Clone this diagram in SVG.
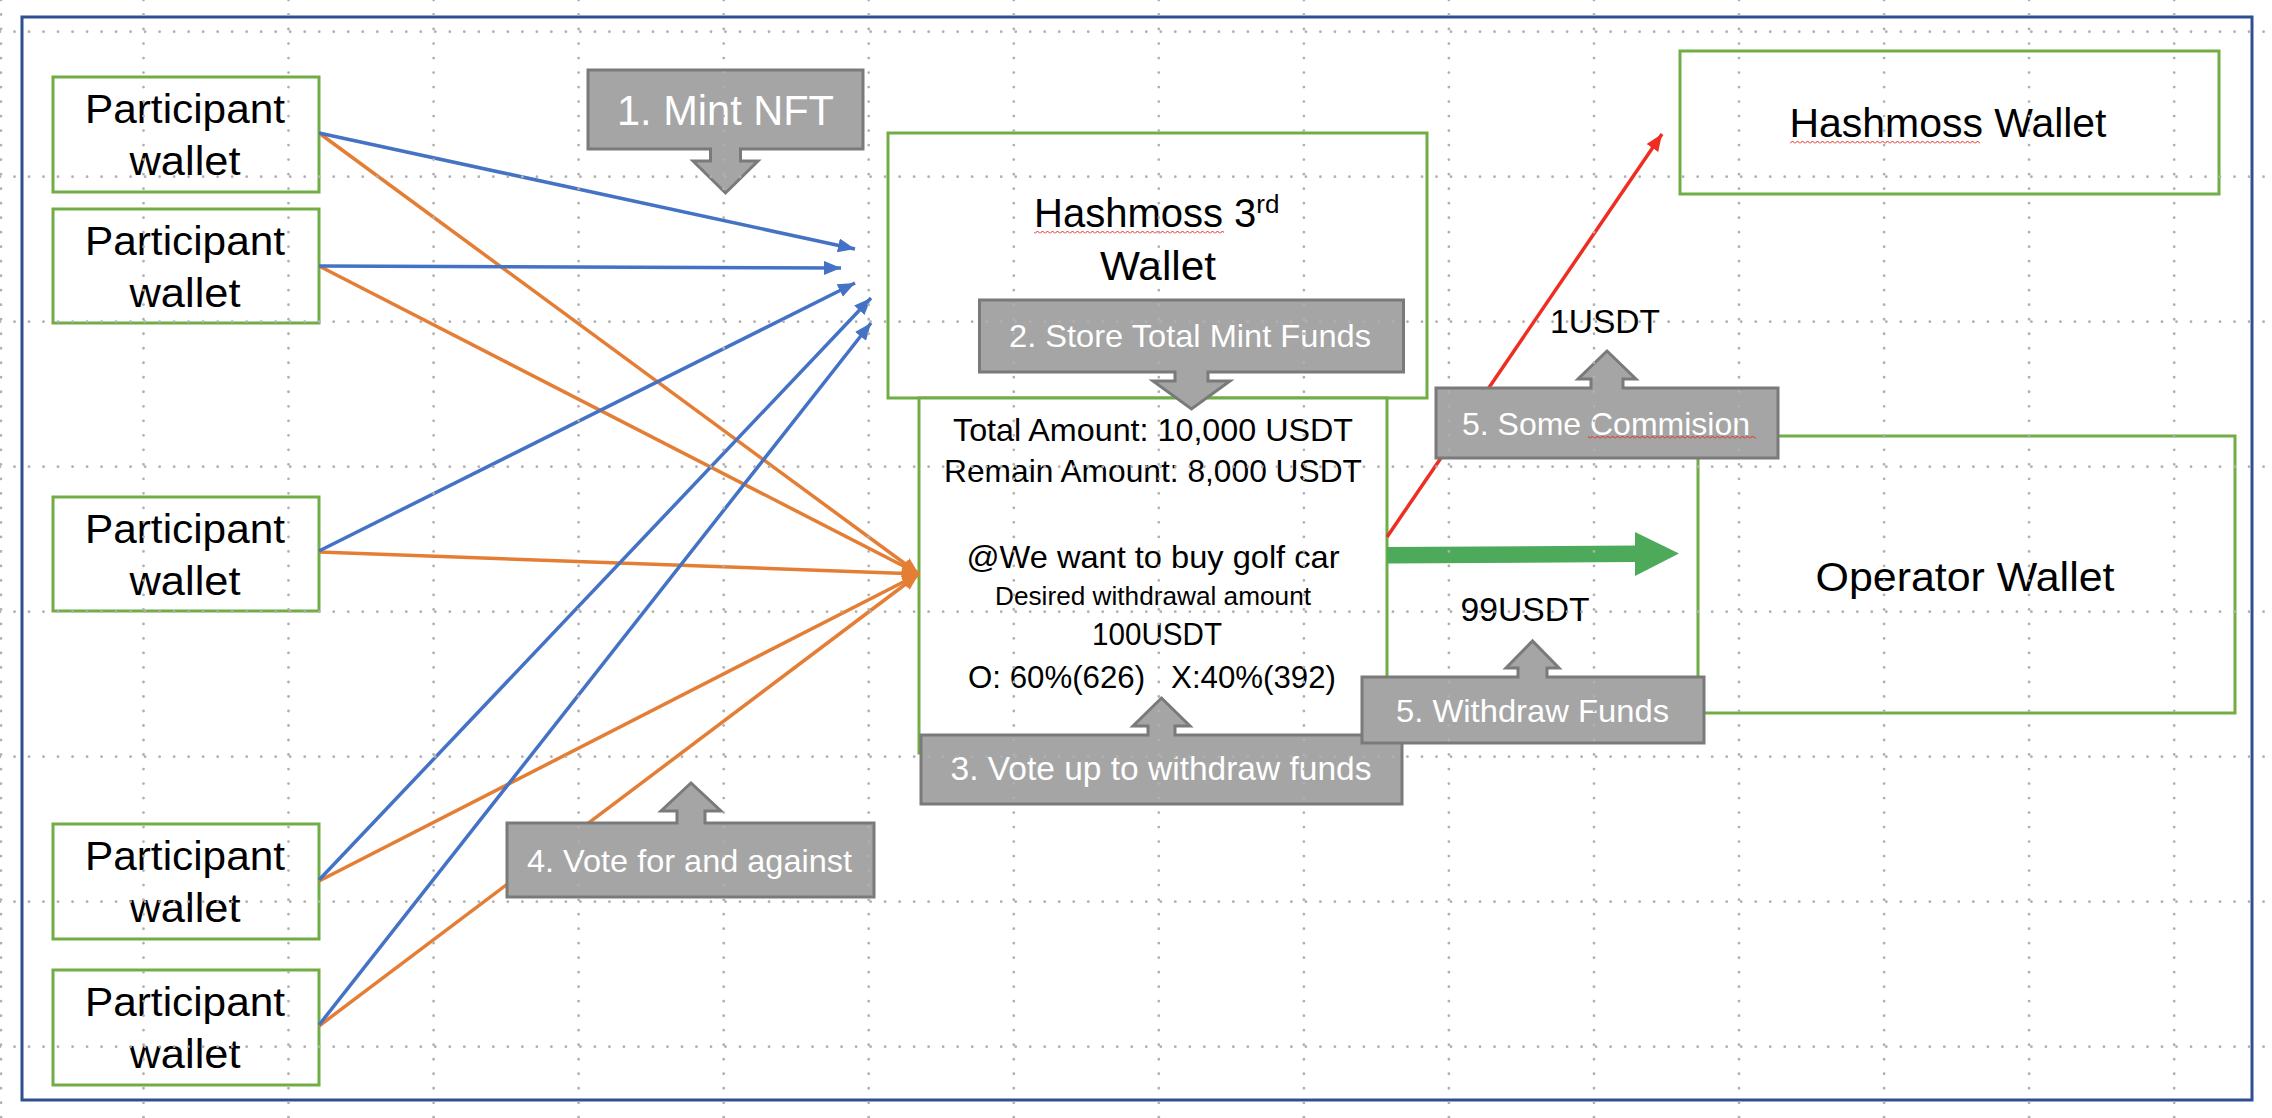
<svg xmlns="http://www.w3.org/2000/svg" width="2272" height="1118" viewBox="0 0 2272 1118">
<style>
.bg{fill:#ffffff}
.frame{fill:none;stroke:#2F4F91;stroke-width:3}
.box{fill:#ffffff;stroke:#70AD47;stroke-width:3}
.t{font-family:"Liberation Sans",Arial,sans-serif;fill:#000000;text-anchor:middle}
.ct{font-family:"Liberation Sans",Arial,sans-serif;fill:#ffffff;text-anchor:middle}
.call{fill:#A5A5A5;stroke:#7A7A7A;stroke-width:3;stroke-linejoin:miter}
.blue{stroke:#4472C4;stroke-width:3.5;fill:none}
.orange{stroke:#E57E35;stroke-width:3.5;fill:none}
.red{stroke:#EE2E22;stroke-width:3.5;fill:none}
.grid{stroke:#B0B0B0;stroke-width:2.8;stroke-dasharray:0.01 14.5;stroke-linecap:round;fill:none}
.sq{fill:url(#squig)}
</style>
<defs>
<marker id="mBlue" markerUnits="userSpaceOnUse" markerWidth="18" markerHeight="14" refX="17" refY="7" orient="auto"><path d="M0,0 L17,7 L0,14 Z" fill="#4472C4"/></marker>
<marker id="mOrange" markerUnits="userSpaceOnUse" markerWidth="18" markerHeight="14" refX="17" refY="7" orient="auto"><path d="M0,0 L17,7 L0,14 Z" fill="#E57E35"/></marker>
<marker id="mRed" markerUnits="userSpaceOnUse" markerWidth="18" markerHeight="14" refX="17" refY="7" orient="auto"><path d="M0,0 L17,7 L0,14 Z" fill="#EE2E22"/></marker>
<pattern id="squig" patternUnits="userSpaceOnUse" width="5" height="5"><path d="M0,3.5 L2.5,1 L5,3.5" fill="none" stroke="#E8231B" stroke-width="1"/></pattern>
</defs>
<rect class="bg" x="0" y="0" width="2272" height="1118"/>
<rect class="frame" x="22" y="17" width="2230" height="1083"/>

<g id="participant1"><rect class="box" x="53" y="77" width="266" height="115"/><text class="t" x="185" y="123" font-size="40" textLength="200" lengthAdjust="spacingAndGlyphs">Participant</text><text class="t" x="185" y="175" font-size="40" textLength="111" lengthAdjust="spacingAndGlyphs">wallet</text></g>
<g id="participant2"><rect class="box" x="53" y="209" width="266" height="114"/><text class="t" x="185" y="255" font-size="40" textLength="200" lengthAdjust="spacingAndGlyphs">Participant</text><text class="t" x="185" y="307" font-size="40" textLength="111" lengthAdjust="spacingAndGlyphs">wallet</text></g>
<g id="participant3"><rect class="box" x="53" y="497" width="266" height="114"/><text class="t" x="185" y="543" font-size="40" textLength="200" lengthAdjust="spacingAndGlyphs">Participant</text><text class="t" x="185" y="595" font-size="40" textLength="111" lengthAdjust="spacingAndGlyphs">wallet</text></g>
<g id="participant4"><rect class="box" x="53" y="824" width="266" height="115"/><text class="t" x="185" y="870" font-size="40" textLength="200" lengthAdjust="spacingAndGlyphs">Participant</text><text class="t" x="185" y="922" font-size="40" textLength="111" lengthAdjust="spacingAndGlyphs">wallet</text></g>
<g id="participant5"><rect class="box" x="53" y="970" width="266" height="115"/><text class="t" x="185" y="1016" font-size="40" textLength="200" lengthAdjust="spacingAndGlyphs">Participant</text><text class="t" x="185" y="1068" font-size="40" textLength="111" lengthAdjust="spacingAndGlyphs">wallet</text></g>

<g id="hashmoss3rd"><rect class="box" x="888" y="133" width="539" height="265"/><text x="1034" y="227" font-family="Liberation Sans, Arial, sans-serif" font-size="40" fill="#000">Hashmoss 3<tspan font-size="26" dy="-14">rd</tspan></text><rect class="sq" x="1034" y="229" width="190" height="5"/><text class="t" x="1158" y="280" font-size="40" textLength="116" lengthAdjust="spacingAndGlyphs">Wallet</text></g>

<g id="proposal"><rect class="box" x="919" y="398" width="468" height="355"/>
<text class="t" x="1153" y="441" font-size="32" textLength="400" lengthAdjust="spacingAndGlyphs">Total Amount: 10,000 USDT</text>
<text class="t" x="1153" y="482" font-size="32" textLength="418" lengthAdjust="spacingAndGlyphs">Remain Amount: 8,000 USDT</text>
<text class="t" x="1153" y="568" font-size="32" textLength="373" lengthAdjust="spacingAndGlyphs">@We want to buy golf car</text>
<text class="t" x="1153" y="605" font-size="25" textLength="316" lengthAdjust="spacingAndGlyphs">Desired withdrawal amount</text>
<text class="t" x="1157" y="645" font-size="32" textLength="130" lengthAdjust="spacingAndGlyphs">100USDT</text>
<text class="t" x="1152" y="688" font-size="32" textLength="368" lengthAdjust="spacingAndGlyphs" xml:space="preserve" style="white-space:pre">O: 60%(626)   X:40%(392)</text>
</g>

<g id="hashmossWallet"><rect class="box" x="1680" y="51" width="539" height="143"/><text class="t" x="1948" y="137" font-size="40" textLength="317" lengthAdjust="spacingAndGlyphs">Hashmoss Wallet</text><rect class="sq" x="1790" y="139" width="190" height="5"/></g>

<g id="operatorWallet"><rect class="box" x="1698" y="436" width="537" height="277"/><text class="t" x="1965" y="591" font-size="40" textLength="299" lengthAdjust="spacingAndGlyphs">Operator Wallet</text></g>

<g id="connectors">
<line class="orange" x1="319" y1="133" x2="919" y2="574" marker-end="url(#mOrange)"/>
<line class="orange" x1="319" y1="266" x2="919" y2="574" marker-end="url(#mOrange)"/>
<line class="orange" x1="319" y1="552" x2="919" y2="574" marker-end="url(#mOrange)"/>
<line class="orange" x1="319" y1="881" x2="919" y2="574" marker-end="url(#mOrange)"/>
<line class="orange" x1="319" y1="1026" x2="919" y2="574" marker-end="url(#mOrange)"/>
<line class="blue" x1="319" y1="133" x2="855" y2="249" marker-end="url(#mBlue)"/>
<line class="blue" x1="319" y1="266" x2="841" y2="268" marker-end="url(#mBlue)"/>
<line class="blue" x1="319" y1="551" x2="855" y2="283" marker-end="url(#mBlue)"/>
<line class="blue" x1="319" y1="880" x2="871" y2="298" marker-end="url(#mBlue)"/>
<line class="blue" x1="319" y1="1025" x2="871" y2="323" marker-end="url(#mBlue)"/>
<line class="red" x1="1387" y1="537" x2="1662" y2="134" marker-end="url(#mRed)"/>
<path d="M1387,547 L1635,545.5 L1635,532 L1679,553.5 L1635,576 L1635,562 L1387,563.5 Z" fill="#4EAA5B"/>
</g>

<g id="step1"><path class="call" d="M588,70 H863 V149 H740.5 V161 H758 L725.5,193 L693,161 H710.5 V149 H588 Z"/><text class="ct" x="725.5" y="125" font-size="42" textLength="217" lengthAdjust="spacingAndGlyphs">1. Mint NFT</text></g>
<g id="step2"><path class="call" d="M979.5,300 H1403.5 V372 H1208 V381 H1230 L1191.5,409 L1153,381 H1175 V372 H979.5 Z"/><text class="ct" x="1190" y="347" font-size="32" textLength="362" lengthAdjust="spacingAndGlyphs">2. Store Total Mint Funds</text></g>
<g id="step3"><path class="call" d="M921,735 H1148 V726 H1133 L1161.5,698 L1190,726 H1175 V735 H1402 V804 H921 Z"/><text class="ct" x="1161" y="780" font-size="33" textLength="421" lengthAdjust="spacingAndGlyphs">3. Vote up to withdraw funds</text></g>
<g id="step4"><path class="call" d="M507,823 H677 V811 H661 L691,783 L721,811 H705 V823 H874 V897 H507 Z"/><text class="ct" x="689.5" y="872" font-size="32" textLength="325" lengthAdjust="spacingAndGlyphs">4. Vote for and against</text></g>
<g id="label1usdt"><text class="t" x="1605" y="333" font-size="34" textLength="110" lengthAdjust="spacingAndGlyphs">1USDT</text></g>
<g id="step5commission"><path class="call" d="M1436,388 H1591 V379 H1578 L1607,351 L1636,379 H1623 V388 H1778 V458 H1436 Z"/><text class="ct" x="1606" y="435" font-size="32" textLength="288" lengthAdjust="spacingAndGlyphs">5. Some Commision</text><rect class="sq" x="1588" y="436" width="168" height="5"/></g>
<g id="label99usdt"><text class="t" x="1525" y="621" font-size="34" textLength="129" lengthAdjust="spacingAndGlyphs">99USDT</text></g>
<g id="step5withdraw"><path class="call" d="M1362,677 H1518 V668 H1506 L1532.5,641 L1559,668 H1547 V677 H1704 V743 H1362 Z"/><text class="ct" x="1532.5" y="722" font-size="32" textLength="273" lengthAdjust="spacingAndGlyphs">5. Withdraw Funds</text></g>

<g id="grid">
<path class="grid" d="M0,31.7 H2272 M0,176.7 H2272 M0,321.7 H2272 M0,466.7 H2272 M0,611.7 H2272 M0,756.7 H2272 M0,901.7 H2272 M0,1046.7 H2272"/>
<path class="grid" d="M1,0 V1118 M143.5,0 V1118 M288.5,0 V1118 M433.6,0 V1118 M578.6,0 V1118 M723.7,0 V1118 M868.7,0 V1118 M1013.8,0 V1118 M1158.8,0 V1118 M1303.9,0 V1118 M1448.9,0 V1118 M1594,0 V1118 M1739,0 V1118 M1884.1,0 V1118 M2029.1,0 V1118 M2174.2,0 V1118"/>
</g>
</svg>
